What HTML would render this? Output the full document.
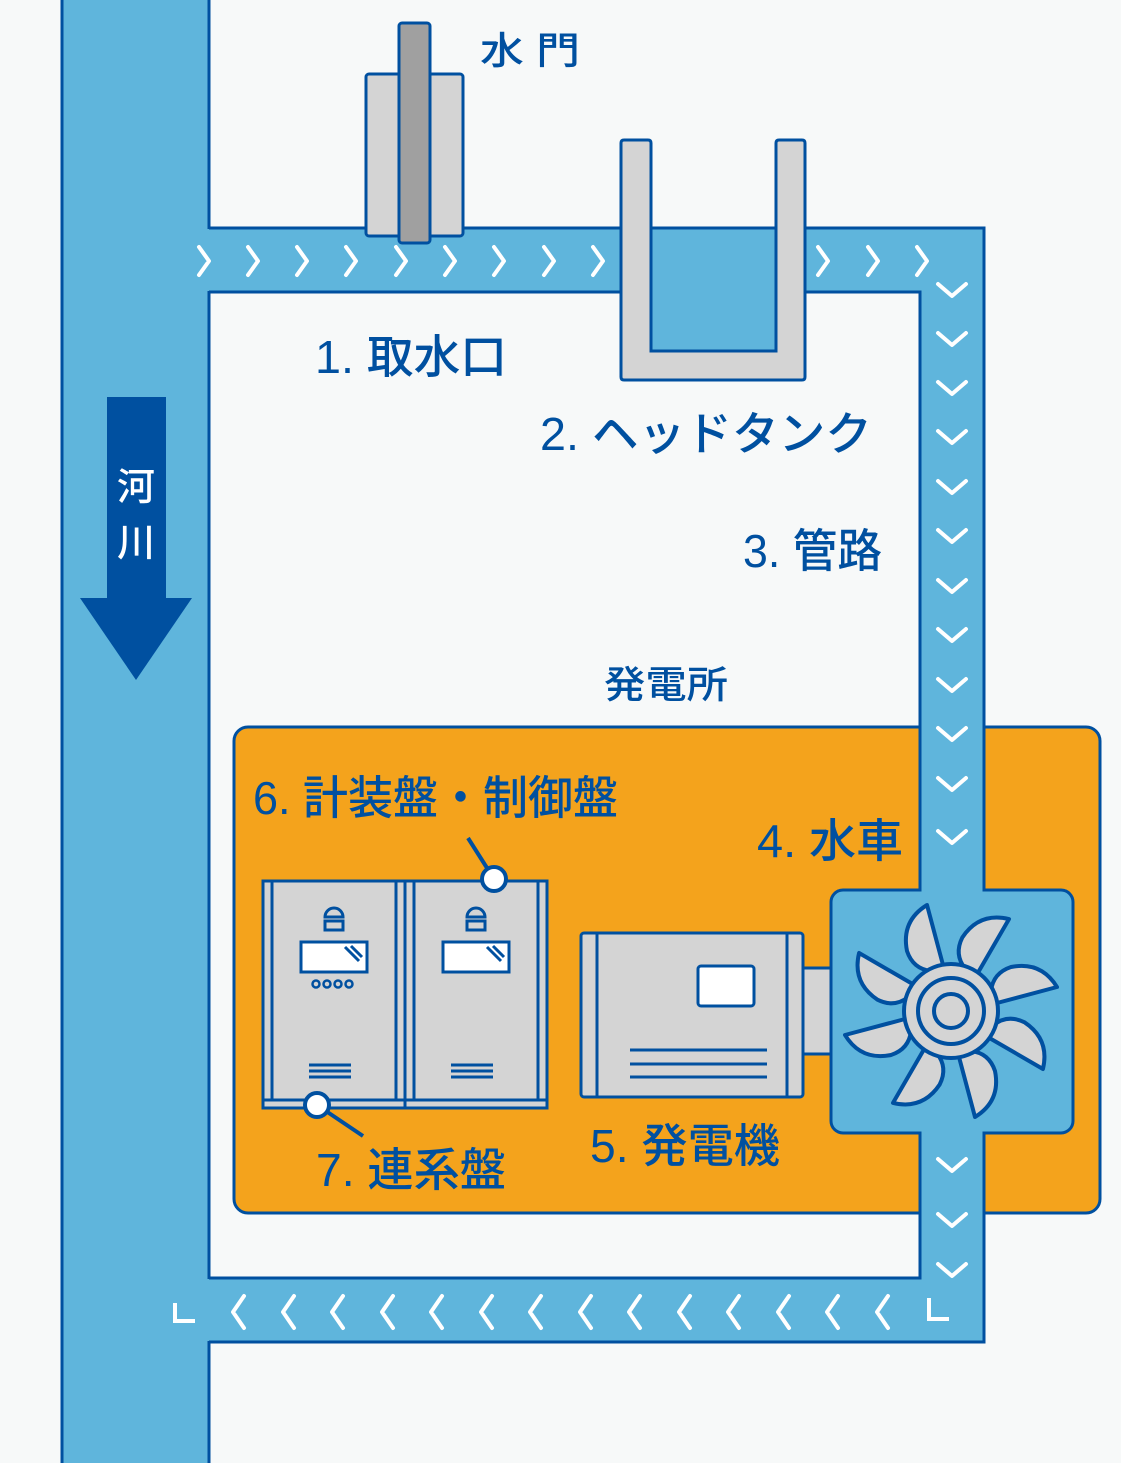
<!DOCTYPE html>
<html><head><meta charset="utf-8"><style>
html,body{margin:0;padding:0;background:#f7f9f9}
svg{display:block}
text{font-family:"Liberation Sans","Noto Sans CJK JP",sans-serif;fill:#0050a0;font-weight:500}
</style></head><body>
<svg width="1121" height="1463" viewBox="0 0 1121 1463" xmlns="http://www.w3.org/2000/svg">
<rect width="1121" height="1463" fill="#f7f9f9"/>
<rect x="234" y="727" width="866" height="486" rx="14" fill="#f4a31c" stroke="#0050a0" stroke-width="3"/>
<rect x="62" y="0" width="147" height="1463" fill="#5fb5dc"/>
<rect x="209" y="228" width="775" height="64" fill="#5fb5dc"/>
<rect x="920" y="228" width="64" height="1114" fill="#5fb5dc"/>
<rect x="209" y="1278" width="775" height="64" fill="#5fb5dc"/>
<g stroke="#0050a0" stroke-width="3" fill="none">
<line x1="62" y1="0" x2="62" y2="1463"/>
<line x1="209" y1="0" x2="209" y2="229"/>
<line x1="209" y1="291" x2="209" y2="1279"/>
<line x1="209" y1="1341" x2="209" y2="1463"/>
<polyline points="209,228 984,228 984,1342 209,1342"/>
<polyline points="209,292 920,292 920,727"/>
<polyline points="920,1213 920,1278 209,1278"/>
</g>
<rect x="921.5" y="729" width="61" height="160" fill="#5fb5dc"/>
<rect x="921.5" y="1134" width="61" height="78" fill="#5fb5dc"/>
<g stroke="#0050a0" stroke-width="3">
<line x1="920" y1="727" x2="920" y2="890"/>
<line x1="984" y1="727" x2="984" y2="890"/>
<line x1="920" y1="1133" x2="920" y2="1213"/>
<line x1="984" y1="1133" x2="984" y2="1213"/>
</g>
<rect x="107" y="397" width="59" height="202" fill="#0050a0"/>
<polygon points="80,598 192,598 136,680" fill="#0050a0"/>
<text x="136" y="500" font-size="38" text-anchor="middle" style="fill:#fff">河</text>
<text x="136" y="556" font-size="38" text-anchor="middle" style="fill:#fff">川</text>
<rect x="366" y="74" width="97" height="162" rx="3" fill="#d4d4d4" stroke="#0050a0" stroke-width="3"/>
<rect x="399" y="23" width="31" height="220" rx="3" fill="#a0a0a0" stroke="#0050a0" stroke-width="3"/>
<path d="M621,143 Q621,140 624,140 L648,140 Q651,140 651,143 L651,351 L776,351 L776,143 Q776,140 779,140 L802,140 Q805,140 805,143 L805,377 Q805,380 802,380 L624,380 Q621,380 621,377 Z" fill="#d4d4d4" stroke="#0050a0" stroke-width="3"/>
<rect x="652.5" y="229.5" width="122" height="120" fill="#5fb5dc"/>
<line x1="651" y1="228" x2="776" y2="228" stroke="#0050a0" stroke-width="2"/>
<g stroke="#fff" stroke-width="4" fill="none" stroke-linecap="round" stroke-linejoin="round">
<path d="M199,247 l10,14 l-10,14 M248,247 l10,14 l-10,14 M297,247 l10,14 l-10,14 M346,247 l10,14 l-10,14 M396,247 l10,14 l-10,14 M445,247 l10,14 l-10,14 M494,247 l10,14 l-10,14 M544,247 l10,14 l-10,14 M593,247 l10,14 l-10,14 M818,247 l10,14 l-10,14 M868,247 l10,14 l-10,14 M917,247 l10,14 l-10,14"/>
<path d="M938,284 l14,12 l14,-12 M938,333 l14,12 l14,-12 M938,382 l14,12 l14,-12 M938,431 l14,12 l14,-12 M938,481 l14,12 l14,-12 M938,530 l14,12 l14,-12 M938,580 l14,12 l14,-12 M938,629 l14,12 l14,-12 M938,679 l14,12 l14,-12 M938,728 l14,12 l14,-12 M938,778 l14,12 l14,-12 M938,831 l14,12 l14,-12 M938,1159 l14,12 l14,-12 M938,1214 l14,12 l14,-12 M938,1264 l14,12 l14,-12"/>
<path d="M244,1296 l-11,16 l11,16 M294,1296 l-11,16 l11,16 M343,1296 l-11,16 l11,16 M393,1296 l-11,16 l11,16 M442,1296 l-11,16 l11,16 M492,1296 l-11,16 l11,16 M541,1296 l-11,16 l11,16 M591,1296 l-11,16 l11,16 M640,1296 l-11,16 l11,16 M690,1296 l-11,16 l11,16 M739,1296 l-11,16 l11,16 M789,1296 l-11,16 l11,16 M838,1296 l-11,16 l11,16 M888,1296 l-11,16 l11,16"/>
</g>
<g stroke="#fff" stroke-width="4" fill="none">
<path d="M175,1303 v18 h20"/>
<path d="M929,1298 v21 h20"/>
</g>
<g stroke="#0050a0" stroke-width="3" fill="#d4d4d4">
<rect x="263" y="881" width="284" height="227"/>
<line x1="405" y1="881" x2="405" y2="1108"/>
<line x1="263" y1="1100" x2="547" y2="1100"/>
<line x1="272" y1="881" x2="272" y2="1100"/>
<line x1="396" y1="881" x2="396" y2="1100"/>
<line x1="414" y1="881" x2="414" y2="1100"/>
<line x1="538" y1="881" x2="538" y2="1100"/>
<rect x="301" y="942" width="66" height="30" fill="#fff"/>
<rect x="443" y="942" width="66" height="30" fill="#fff"/>
<rect x="325" y="921" width="18" height="9"/>
<rect x="467" y="921" width="18" height="9"/>
<path d="M325,917 a9,9 0 0 1 18,0 Z M467,917 a9,9 0 0 1 18,0 Z" fill="#d4d4d4"/>
<path d="M345,947 l14,14 M351,946 l11,11 M487,947 l14,14 M493,946 l11,11" fill="none"/>
<circle cx="316" cy="984" r="3.5" stroke-width="2.5"/>
<circle cx="327" cy="984" r="3.5" stroke-width="2.5"/>
<circle cx="338" cy="984" r="3.5" stroke-width="2.5"/>
<circle cx="349" cy="984" r="3.5" stroke-width="2.5"/>
<path d="M309,1065 h42 M309,1071 h42 M309,1077 h42 M451,1065 h42 M451,1071 h42 M451,1077 h42" fill="none"/>
</g>
<g stroke="#0050a0" stroke-width="3" fill="#d4d4d4">
<rect x="803" y="968" width="30" height="86"/>
<rect x="581" y="933" width="222" height="164" rx="3"/>
<line x1="597" y1="933" x2="597" y2="1097"/>
<line x1="787" y1="933" x2="787" y2="1097"/>
<rect x="698" y="966" width="56" height="40" rx="3" fill="#fff"/>
<path d="M630,1050 h137 M630,1064 h137 M630,1077 h137" fill="none"/>
</g>
<rect x="831" y="890" width="242" height="243" rx="12" fill="#5fb5dc" stroke="#0050a0" stroke-width="3"/>
<line x1="921.5" y1="890" x2="982.5" y2="890" stroke="#5fb5dc" stroke-width="4"/>
<line x1="921.5" y1="1133" x2="982.5" y2="1133" stroke="#5fb5dc" stroke-width="4"/>
<g transform="translate(951,1011)" stroke="#0050a0" stroke-width="4" fill="#d4d4d4" stroke-linejoin="round">
<g id="bl"><path d="M-8,-46 L-24,-106 Q-50,-90 -44,-60 Q-38,-42 -20,-40 Z"/></g>
<use href="#bl" transform="rotate(45)"/>
<use href="#bl" transform="rotate(90)"/>
<use href="#bl" transform="rotate(135)"/>
<use href="#bl" transform="rotate(180)"/>
<use href="#bl" transform="rotate(225)"/>
<use href="#bl" transform="rotate(270)"/>
<use href="#bl" transform="rotate(315)"/>
<circle r="47"/>
<circle r="33"/>
<circle r="17"/>
</g>
<g stroke="#0050a0" stroke-width="4">
<line x1="468" y1="838" x2="494" y2="879"/>
<line x1="317" y1="1105" x2="363" y2="1136"/>
<circle cx="494" cy="879" r="12" fill="#fff"/>
<circle cx="317" cy="1105" r="12" fill="#fff"/>
</g>
<text x="480" y="64" font-size="38" textLength="100" lengthAdjust="spacingAndGlyphs">水 門</text>
<text x="315" y="373" font-size="46" textLength="192" lengthAdjust="spacingAndGlyphs">1. 取水口</text>
<text x="540" y="450" font-size="46" textLength="332" lengthAdjust="spacingAndGlyphs">2. ヘッドタンク</text>
<text x="743" y="567" font-size="46" textLength="139" lengthAdjust="spacingAndGlyphs">3. 管路</text>
<text x="604" y="698" font-size="38" textLength="124" lengthAdjust="spacingAndGlyphs">発電所</text>
<text x="253" y="814" font-size="46" textLength="365" lengthAdjust="spacingAndGlyphs">6. 計装盤・制御盤</text>
<text x="757" y="857" font-size="46" textLength="146" lengthAdjust="spacingAndGlyphs">4. 水車</text>
<text x="316" y="1186" font-size="46" textLength="190" lengthAdjust="spacingAndGlyphs">7. 連系盤</text>
<text x="590" y="1162" font-size="46" textLength="190" lengthAdjust="spacingAndGlyphs">5. 発電機</text>
</svg>
</body></html>
